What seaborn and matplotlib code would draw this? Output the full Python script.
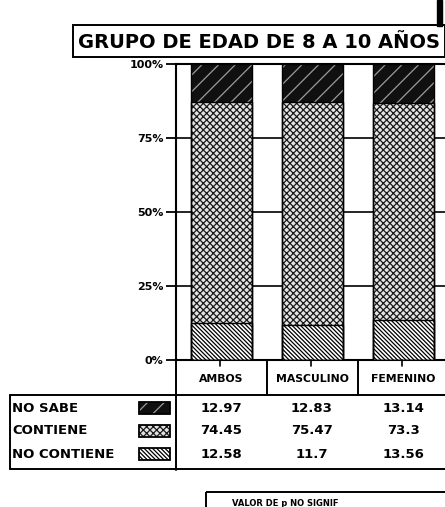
import matplotlib
matplotlib.use("Agg")
import matplotlib.pyplot as plt
from matplotlib.patches import Rectangle
import numpy as np
import pandas as pd
import seaborn as sns

# Data
grupos = ["AMBOS", "MASCULINO", "FEMENINO"]
series = ["NO SABE", "CONTIENE", "NO CONTIENE"]
no_sabe = [12.97, 12.83, 13.14]
contiene = [74.45, 75.47, 73.3]
no_contiene = [12.58, 11.7, 13.56]
tick_vals = [0, 25, 50, 75, 100]
tick_labels = ["0%", "25%", "50%", "75%", "100%"]
titulo = "GRUPO DE EDAD DE 8 A 10 AÑOS"
nota = "VALOR DE p NO SIGNIF"

sns.set_theme(style="white")
plt.rcParams["font.family"] = ["DejaVu Sans"]
plt.rcParams["text.color"] = "black"
plt.rcParams["ytick.color"] = "black"
plt.rcParams["hatch.linewidth"] = 0.9

W, H = 445, 507
fig = plt.figure(figsize=(W / 100, H / 100), dpi=100)


def fx(px):
    return px / W


def fy(py):
    return 1 - py / H


# Plot area: x from 176 px to 449 px, y from 64 px (100%) to 360 px (0%)
ax = fig.add_axes([fx(176), fy(360), fx(449 - 176), fy(64) - fy(360)])

df = pd.DataFrame({"grupo": grupos, "NO SABE": no_sabe,
                   "CONTIENE": contiene, "NO CONTIENE": no_contiene})
df["c3"] = df["NO CONTIENE"]
df["c2"] = df["c3"] + df["CONTIENE"]
df["c1"] = df["c2"] + df["NO SABE"]

fills = {
    "NO SABE": ("#101010", "#9a9a9a", "//"),
    "CONTIENE": ("#e4e4e4", "#1a1a1a", "xxxxx"),
    "NO CONTIENE": ("white", "#000000", "\\" * 8),
}
layers = [("c1", "NO SABE"), ("c2", "CONTIENE"), ("c3", "NO CONTIENE")]
for col, name in layers:
    face, edge, hatch = fills[name]
    n0 = len(ax.patches)
    sns.barplot(data=df, x="grupo", y=col, ax=ax, color=face, width=0.66,
                saturation=1, zorder=3)
    for p in ax.patches[n0:]:
        p.set_facecolor(face)
        p.set_hatch(hatch)
        p.set_edgecolor(edge)
        p.set_linewidth(0)
        # outline drawn on top of the hatch
        ax.add_patch(Rectangle(p.get_xy(), p.get_width(), p.get_height(),
                               fill=False, ec="black", lw=1.0, zorder=4))

ax.set_xlim(-0.5, 2.5)
ax.set_ylim(0, 100)
ax.set_yticks(tick_vals)
ax.set_yticklabels(tick_labels, fontsize=8, fontweight="heavy")
ax.tick_params(axis="y", length=7, width=1.3, color="black", pad=2,
               direction="out", left=True, labelcolor="black")
ax.set_xticks([])
ax.set_xlabel("")
ax.set_ylabel("")
for v in tick_vals[1:-1]:
    ax.axhline(v, color="black", lw=1.2, zorder=1)
for s in ["top", "left", "bottom"]:
    ax.spines[s].set_color("black")
    ax.spines[s].set_linewidth(1.5)
ax.spines["right"].set_visible(False)

# Overlay in pixel coordinates for frames and table text
ov = fig.add_axes([0, 0, 1, 1], facecolor="none")
ov.set_xlim(0, W)
ov.set_ylim(H, 0)
ov.axis("off")

lw = 1.4
# Title box
ov.add_patch(Rectangle((73, 25), 372, 32, fill=False, lw=lw, ec="black"))
ov.add_patch(Rectangle((437, 0), 5, 26, color="black"))
ov.text(259, 42, titulo, ha="center", va="center", fontsize=14,
        fontweight="bold", color="black")

# Category row
ov.plot([176, 176], [360, 470], color="black", lw=lw)
ov.plot([267, 267], [360, 395], color="black", lw=lw)
ov.plot([358, 358], [360, 395], color="black", lw=lw)
for i, g in enumerate(grupos):
    cx = 220 + 91 * i
    ov.plot([cx, cx], [360, 366], color="black", lw=1.2)
    ov.text(cx + 1, 379, g, ha="center", va="center", fontsize=7.8,
            fontweight="heavy", color="black")

# Data table
ov.plot([10, 445], [395, 395], color="black", lw=lw)
ov.plot([10, 445], [469, 469], color="black", lw=lw)
ov.plot([10, 10], [395, 469], color="black", lw=lw)
row_y = [408, 431, 454]
valores = [no_sabe, contiene, no_contiene]
for r, (name, ry) in enumerate(zip(series, row_y)):
    ov.text(12, ry, name, ha="left", va="center", fontsize=9.5,
            fontweight="heavy", color="black")
    face, edge, hatch = fills[name]
    ov.add_patch(Rectangle((139, ry - 6), 31, 12, facecolor=face,
                           edgecolor=edge, hatch=hatch, lw=0))
    ov.add_patch(Rectangle((139, ry - 6), 31, 12, fill=False,
                           edgecolor="black", lw=1.3))
    for i, v in enumerate(valores[r]):
        ov.text(221 + 91 * i, ry, f"{v:g}", ha="center", va="center",
                fontsize=9.5, fontweight="heavy", color="black")

# Note box
ov.add_patch(Rectangle((206, 492), 250, 40, fill=False, lw=lw, ec="black"))
ov.text(232, 504, nota, ha="left", va="center", fontsize=6,
        fontweight="heavy", color="black")

fig.savefig("out.png", dpi=100)
